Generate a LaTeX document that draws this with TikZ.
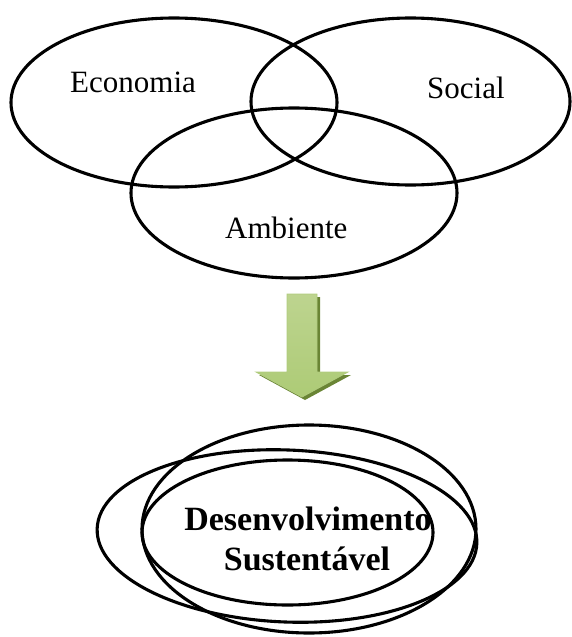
\documentclass[tikz,border=0pt]{standalone}
\usepackage{fontspec}
\setmainfont{Liberation Serif}
\usetikzlibrary{calc}

\definecolor{leafTop}{HTML}{BDD48F}
\definecolor{leafMid}{HTML}{93B752}
\definecolor{leafLow}{HTML}{ADCB76}
\definecolor{leafShadow}{HTML}{6A8535}

\begin{document}
\begin{tikzpicture}
[x=1pt,y=-1pt,ring/.style={draw,line width=3.1pt},
word/.style={anchor=base west,inner sep=0pt,font=\fontsize{31}{37}\selectfont},
goal/.style={anchor=base,inner sep=0pt,font=\fontsize{34}{40}\selectfont\bfseries}]

\useasboundingbox (0,0) rectangle (571,637);

%Arrow geometry
\def\Ax{302}   %shaft centre
\def\Sw{15}    %half width of shaft
\def\Hw{46}    %half width of head
\def\Ty{294}   %top of shaft
\def\Hy{372}   %top of head
\def\Py{397}   %tip

%Labeling circles
\node (eco) at (70,92)[word] {Economia};
\node (soc) at (427,98)[word] {Social};
\node (amb) at (225,238)[word] {Ambiente};
\node (dev) at (308,530)[goal] {Desenvolvimento};
\node (sus) at (307,570)[goal] {Sustentável};

%Drawing ellipses
\draw[ring] (174,102.5) ellipse (163 and 84.5);
\draw[ring] (410.5,101.5) ellipse (159.5 and 83.5);
\draw[ring] (294,193) ellipse (163 and 85);

\draw[ring] (309,529) ellipse (167 and 104);
\draw[ring,rotate around={-2.3:(287,536)}] (287,536) ellipse (190 and 86);
\draw[ring] (287.5,532.5) ellipse (145.5 and 72.5);

%Drawing arrow
\fill[leafShadow] ($(\Ax-\Sw,\Ty)+(3,3)$) -- ($(\Ax+\Sw,\Ty)+(3,3)$) -- ($(\Ax+\Sw,\Hy)+(3,3)$)
  -- ($(\Ax+\Hw,\Hy)+(3,3)$) -- ($(\Ax,\Py)+(3,3)$) -- ($(\Ax-\Hw,\Hy)+(3,3)$)
  -- ($(\Ax-\Sw,\Hy)+(3,3)$) -- cycle;
\shade[top color=leafTop,middle color=leafMid,bottom color=leafLow,draw=leafTop!70!leafMid,line width=0.8pt]
  (\Ax-\Sw,\Ty) -- (\Ax+\Sw,\Ty) -- (\Ax+\Sw,\Hy) -- (\Ax+\Hw,\Hy) -- (\Ax,\Py)
  -- (\Ax-\Hw,\Hy) -- (\Ax-\Sw,\Hy) -- cycle;

\end{tikzpicture}
\end{document}
